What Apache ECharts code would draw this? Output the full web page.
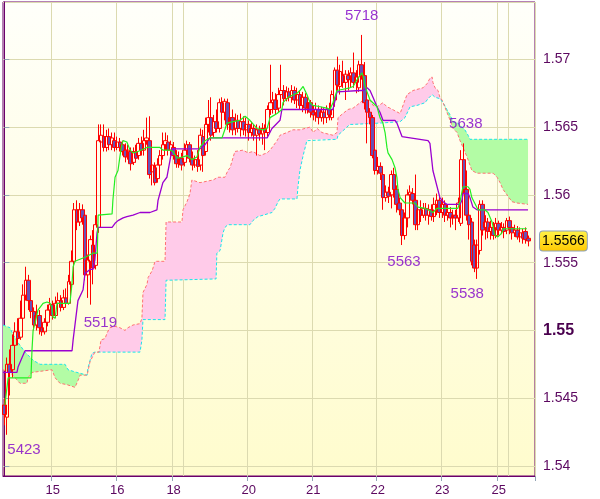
<!DOCTYPE html>
<html><head><meta charset="utf-8">
<script src="https://cdn.jsdelivr.net/npm/echarts@6/dist/echarts.min.js"></script>
<style>html,body{margin:0;padding:0;background:#fff}#c{width:600px;height:499px}</style>
</head><body><div id="c"></div>
<script>
// ---- data ----
const dayNames = ['14','15','16','18','19','20','21','22','23','25','26'];
const dayHours = [18,24,21,4,24,24,24,24,21,4,10];
const labeledDays = ['15','16','18','20','21','22','23','25'];
const gridDays = ['15','16','18','19','20','21','22','23','25','26'];

// [open, close, low, high]
const candles = [
[1.5445,1.5438,1.5430,1.5450],[1.5436,1.5475,1.5423,1.5480],[1.5475,1.5469,1.5452,1.5486],[1.5471,1.5489,1.5465,1.5497],
[1.5489,1.5499,1.5486,1.5506],[1.5499,1.5494,1.5489,1.5509],[1.5495,1.5509,1.5493,1.5522],[1.5509,1.5526,1.5506,1.5534],
[1.5526,1.5537,1.5522,1.5547],[1.5537,1.5522,1.5515,1.5541],[1.5522,1.5514,1.5509,1.5530],[1.5514,1.5504,1.5500,1.5517],
[1.5504,1.5511,1.5500,1.5519],[1.5511,1.5502,1.5497,1.5515],[1.5502,1.5499,1.5496,1.5508],[1.5499,1.5506,1.5497,1.5509],
[1.5506,1.5515,1.5503,1.5519],[1.5515,1.5519,1.5511,1.5524],[1.5519,1.5511,1.5508,1.5522],[1.5511,1.5520,1.5509,1.5525],
[1.5520,1.5522,1.5515,1.5528],[1.5522,1.5517,1.5514,1.5526],[1.5517,1.5524,1.5515,1.5530],[1.5524,1.5520,1.5517,1.5531],
[1.5520,1.5536,1.5519,1.5541],[1.5534,1.5551,1.5530,1.5559],[1.5551,1.5589,1.5548,1.5594],[1.5589,1.5580,1.5574,1.5596],
[1.5580,1.5589,1.5577,1.5594],[1.5589,1.5583,1.5578,1.5593],[1.5585,1.5541,1.5537,1.5589],[1.5541,1.5552,1.5524,1.5556],
[1.5551,1.5567,1.5519,1.5570],[1.5563,1.5546,1.5534,1.5574],[1.5548,1.5578,1.5545,1.5585],[1.5576,1.5640,1.5572,1.5652],
[1.5639,1.5644,1.5633,1.5652],[1.5643,1.5635,1.5632,1.5652],[1.5635,1.5643,1.5632,1.5648],[1.5643,1.5637,1.5633,1.5649],
[1.5637,1.5642,1.5633,1.5646],[1.5640,1.5635,1.5632,1.5646],[1.5635,1.5639,1.5633,1.5643],[1.5639,1.5635,1.5632,1.5642],
[1.5637,1.5632,1.5629,1.5640],[1.5633,1.5628,1.5624,1.5638],[1.5628,1.5633,1.5626,1.5637],[1.5632,1.5623,1.5618,1.5635],
[1.5624,1.5632,1.5622,1.5635],[1.5632,1.5627,1.5624,1.5637],[1.5629,1.5638,1.5626,1.5642],[1.5638,1.5633,1.5629,1.5643],
[1.5633,1.5640,1.5629,1.5648],[1.5640,1.5642,1.5637,1.5657],[1.5640,1.5615,1.5612,1.5658],[1.5617,1.5622,1.5607,1.5626],
[1.5620,1.5609,1.5607,1.5624],[1.5612,1.5622,1.5609,1.5627],[1.5622,1.5629,1.5617,1.5633],[1.5629,1.5637,1.5626,1.5646],
[1.5637,1.5640,1.5633,1.5646],[1.5639,1.5633,1.5629,1.5644],[1.5633,1.5637,1.5629,1.5640],[1.5635,1.5629,1.5626,1.5639],
[1.5629,1.5623,1.5620,1.5633],[1.5623,1.5627,1.5620,1.5632],[1.5627,1.5622,1.5618,1.5631],[1.5624,1.5633,1.5621,1.5638],
[1.5633,1.5637,1.5629,1.5640],[1.5637,1.5627,1.5624,1.5639],[1.5627,1.5622,1.5618,1.5632],[1.5622,1.5626,1.5620,1.5629],
[1.5626,1.5621,1.5617,1.5633],[1.5622,1.5644,1.5618,1.5649],[1.5643,1.5629,1.5617,1.5648],[1.5632,1.5652,1.5629,1.5657],
[1.5652,1.5657,1.5646,1.5670],[1.5657,1.5644,1.5640,1.5672],[1.5646,1.5654,1.5642,1.5659],[1.5654,1.5649,1.5646,1.5663],
[1.5649,1.5668,1.5646,1.5671],[1.5668,1.5661,1.5657,1.5672],[1.5661,1.5669,1.5655,1.5671],[1.5668,1.5652,1.5648,1.5671],
[1.5653,1.5657,1.5646,1.5664],[1.5657,1.5648,1.5644,1.5663],[1.5649,1.5655,1.5644,1.5660],[1.5655,1.5649,1.5646,1.5659],
[1.5649,1.5654,1.5643,1.5660],[1.5654,1.5648,1.5644,1.5658],[1.5648,1.5652,1.5643,1.5657],[1.5652,1.5646,1.5640,1.5655],
[1.5646,1.5649,1.5643,1.5654],[1.5649,1.5644,1.5640,1.5652],[1.5644,1.5648,1.5629,1.5652],[1.5648,1.5645,1.5640,1.5651],
[1.5645,1.5649,1.5637,1.5653],[1.5649,1.5646,1.5633,1.5652],[1.5646,1.5663,1.5643,1.5666],[1.5663,1.5668,1.5659,1.5696],
[1.5668,1.5670,1.5660,1.5676],[1.5670,1.5663,1.5659,1.5675],[1.5664,1.5674,1.5661,1.5679],[1.5674,1.5677,1.5669,1.5696],
[1.5677,1.5671,1.5666,1.5681],[1.5671,1.5676,1.5669,1.5680],[1.5676,1.5672,1.5669,1.5679],[1.5672,1.5677,1.5668,1.5681],
[1.5677,1.5670,1.5667,1.5680],[1.5670,1.5674,1.5664,1.5679],[1.5674,1.5666,1.5663,1.5677],[1.5666,1.5672,1.5661,1.5676],
[1.5672,1.5664,1.5660,1.5675],[1.5664,1.5668,1.5660,1.5671],[1.5668,1.5661,1.5657,1.5670],[1.5661,1.5659,1.5655,1.5666],
[1.5659,1.5663,1.5654,1.5668],[1.5663,1.5657,1.5652,1.5666],[1.5657,1.5661,1.5654,1.5665],[1.5661,1.5657,1.5652,1.5664],
[1.5657,1.5663,1.5653,1.5666],[1.5663,1.5659,1.5655,1.5668],[1.5657,1.5674,1.5655,1.5677],[1.5670,1.5692,1.5665,1.5694],
[1.5692,1.5681,1.5677,1.5702],[1.5680,1.5691,1.5674,1.5696],[1.5688,1.5683,1.5679,1.5699],[1.5683,1.5689,1.5670,1.5692],
[1.5688,1.5685,1.5677,1.5692],[1.5685,1.5690,1.5679,1.5694],[1.5690,1.5683,1.5679,1.5705],[1.5683,1.5687,1.5675,1.5692],
[1.5679,1.5696,1.5676,1.5699],[1.5696,1.5688,1.5685,1.5718],[1.5688,1.5668,1.5663,1.5698],[1.5670,1.5661,1.5638,1.5674],
[1.5661,1.5657,1.5652,1.5664],[1.5657,1.5629,1.5627,1.5659],[1.5633,1.5618,1.5615,1.5637],[1.5618,1.5621,1.5615,1.5628],
[1.5621,1.5616,1.5611,1.5624],[1.5615,1.5598,1.5589,1.5618],[1.5598,1.5602,1.5595,1.5607],[1.5602,1.5599,1.5594,1.5606],
[1.5600,1.5615,1.5590,1.5618],[1.5615,1.5604,1.5598,1.5620],[1.5604,1.5593,1.5587,1.5607],[1.5594,1.5589,1.5585,1.5598],
[1.5589,1.5570,1.5563,1.5593],[1.5570,1.5583,1.5567,1.5587],[1.5583,1.5600,1.5576,1.5604],[1.5600,1.5602,1.5593,1.5607],
[1.5601,1.5596,1.5593,1.5605],[1.5596,1.5578,1.5574,1.5615],[1.5578,1.5589,1.5574,1.5593],[1.5589,1.5585,1.5580,1.5596],
[1.5585,1.5590,1.5583,1.5594],[1.5590,1.5585,1.5581,1.5594],[1.5585,1.5589,1.5578,1.5593],[1.5589,1.5584,1.5581,1.5593],
[1.5584,1.5593,1.5580,1.5598],[1.5593,1.5596,1.5585,1.5601],[1.5596,1.5587,1.5583,1.5600],[1.5587,1.5593,1.5583,1.5598],
[1.5593,1.5585,1.5580,1.5596],[1.5585,1.5587,1.5581,1.5593],[1.5587,1.5583,1.5576,1.5591],[1.5583,1.5585,1.5578,1.5589],
[1.5585,1.5583,1.5574,1.5589],[1.5583,1.5594,1.5580,1.5598],[1.5579,1.5626,1.5577,1.5633],[1.5626,1.5604,1.5601,1.5638],
[1.5604,1.5585,1.5581,1.5618],[1.5585,1.5578,1.5567,1.5593],[1.5580,1.5551,1.5548,1.5583],[1.5563,1.5546,1.5543,1.5567],
[1.5546,1.5563,1.5538,1.5567],[1.5559,1.5593,1.5556,1.5596],[1.5593,1.5574,1.5570,1.5596],[1.5576,1.5580,1.5567,1.5585],
[1.5580,1.5573,1.5568,1.5583],[1.5573,1.5576,1.5567,1.5581],[1.5576,1.5570,1.5567,1.5580],[1.5570,1.5579,1.5568,1.5583],
[1.5579,1.5574,1.5570,1.5581],[1.5574,1.5576,1.5571,1.5580],[1.5576,1.5573,1.5568,1.5579],[1.5574,1.5581,1.5571,1.5583],
[1.5581,1.5576,1.5571,1.5584],[1.5576,1.5572,1.5567,1.5579],[1.5572,1.5574,1.5569,1.5578],[1.5574,1.5569,1.5567,1.5577],
[1.5569,1.5572,1.5565,1.5576],[1.5572,1.5568,1.5564,1.5575],[1.5573,1.5567,1.5564,1.5576],[1.5568,1.5566,1.5562,1.5570]
];

// [bar position, price]
const tenkan = [[0.2,1.5445],[1.4,1.5465],[9.9,1.5465],[10.3,1.5486],[10.7,1.5500],[11.4,1.5505],[12.5,1.5515],[14.4,1.5520],[15.9,1.5521],[17.0,1.5520],[17.7,1.5517],[18.1,1.5510],[18.9,1.5509],[19.6,1.5520],[24.4,1.5520],[25.2,1.5535],[25.6,1.5547],[26.3,1.5551],[30.0,1.5554],[33.0,1.5557],[34.6,1.5557],[34.9,1.5585],[40.1,1.5586],[40.4,1.5596],[41.2,1.5613],[42.3,1.5618],[43.0,1.5628],[43.8,1.5638],[44.2,1.5640],[45.6,1.5639],[46.8,1.5633],[47.9,1.5631],[49.7,1.5632],[53.1,1.5635],[57.9,1.5635],[59.0,1.5633],[61.7,1.5633],[62.8,1.5632],[64.3,1.5627],[66.5,1.5628],[68.0,1.5629],[69.8,1.5626],[71.7,1.5628],[72.8,1.5635],[74.7,1.5640],[76.5,1.5642],[81.0,1.5642],[82.9,1.5653],[85.1,1.5654],[87.7,1.5655],[89.6,1.5658],[91.4,1.5655],[94.0,1.5649],[96.3,1.5648],[97.8,1.5649],[98.9,1.5657],[101.5,1.5660],[103.3,1.5663],[103.7,1.5668],[105.6,1.5672],[108.9,1.5675],[110.0,1.5677],[111.2,1.5680],[112.6,1.5674],[113.8,1.5668],[114.9,1.5666],[117.5,1.5665],[120.1,1.5664],[121.2,1.5663],[122.3,1.5668],[123.8,1.5677],[128.6,1.5679],[129.8,1.5680],[131.6,1.5686],[133.1,1.5690],[133.5,1.5688],[134.2,1.5681],[135.0,1.5676],[136.1,1.5670],[138.7,1.5665],[139.8,1.5657],[140.9,1.5653],[141.7,1.5646],[142.4,1.5635],[142.8,1.5631],[144.3,1.5626],[145.4,1.5620],[146.1,1.5613],[146.5,1.5604],[147.3,1.5598],[149.1,1.5594],[152.8,1.5594],[154.0,1.5591],[156.6,1.5590],[157.7,1.5589],[159.5,1.5587],[161.0,1.5590],[168.8,1.5590],[169.6,1.5595],[170.3,1.5602],[170.7,1.5606],[172.6,1.5606],[173.3,1.5604],[174.0,1.5598],[176.3,1.5589],[178.8,1.5589],[180.0,1.5587],[181.5,1.5580],[182.6,1.5570],[183.7,1.5569],[185.2,1.5572],[185.6,1.5575],[194.5,1.5575]];

const kijun = [[-0.5,1.5469],[4.7,1.5469],[5.1,1.5473],[6.6,1.5480],[7.7,1.5485],[25.2,1.5485],[25.6,1.5493],[27.4,1.5522],[29.3,1.5530],[30.0,1.5542],[31.9,1.5545],[33.0,1.5545],[33.7,1.5552],[34.5,1.5572],[34.9,1.5576],[40.1,1.5576],[41.2,1.5579],[42.3,1.5581],[44.2,1.5583],[45.6,1.5584],[47.9,1.5585],[50.5,1.5587],[54.2,1.5587],[56.8,1.5589],[57.2,1.5596],[57.9,1.5601],[59.0,1.5609],[60.5,1.5613],[61.7,1.5626],[62.4,1.5634],[72.8,1.5634],[74.7,1.5637],[76.5,1.5642],[97.8,1.5642],[99.6,1.5649],[102.6,1.5655],[103.3,1.5663],[122.3,1.5663],[123.8,1.5676],[132.4,1.5677],[133.5,1.5677],[135.0,1.5679],[136.1,1.5677],[137.2,1.5672],[138.7,1.5665],[139.8,1.5661],[140.9,1.5655],[145.4,1.5655],[146.1,1.5653],[148.0,1.5643],[157.7,1.5640],[158.4,1.5638],[159.5,1.5618],[162.1,1.5598],[163.3,1.5595],[164.7,1.5593],[169.6,1.5593],[170.3,1.5596],[170.7,1.5601],[172.6,1.5601],[173.3,1.5598],[174.4,1.5591],[175.9,1.5589],[194.9,1.5589]];

const senkouA = [[-0.5,1.5504],[2.1,1.5502],[3.2,1.5497],[5.1,1.5491],[7.7,1.5484],[10.7,1.5478],[13.3,1.5475],[22.6,1.5475],[23.7,1.5471],[27.0,1.5469],[30.8,1.5467],[31.1,1.5472],[32.6,1.5483],[33.7,1.5484],[50.5,1.5484],[51.2,1.5493],[51.6,1.5508],[59.8,1.5508],[60.2,1.5537],[78.8,1.5538],[79.1,1.5557],[80.3,1.5559],[81.4,1.5572],[82.1,1.5576],[83.2,1.5578],[91.4,1.5578],[92.5,1.5581],[94.4,1.5584],[96.3,1.5585],[99.6,1.5587],[100.7,1.5590],[101.9,1.5595],[102.6,1.5597],[108.9,1.5597],[109.3,1.5606],[110.0,1.5618],[111.2,1.5629],[112.6,1.5640],[113.0,1.5641],[123.8,1.5641],[124.2,1.5644],[128.6,1.5652],[129.8,1.5652],[139.8,1.5653],[147.3,1.5654],[149.1,1.5657],[151.0,1.5665],[153.6,1.5666],[156.6,1.5668],[157.7,1.5671],[159.2,1.5674],[160.3,1.5672],[162.1,1.5671],[163.3,1.5668],[164.7,1.5663],[165.9,1.5659],[167.0,1.5654],[168.8,1.5653],[170.3,1.5650],[171.4,1.5648],[172.6,1.5644],[173.3,1.5641],[194.9,1.5641]];

const senkouB = [[-0.5,1.5471],[2.1,1.5469],[4.0,1.5465],[5.8,1.5461],[8.4,1.5461],[8.8,1.5465],[10.3,1.5469],[17.7,1.5471],[18.9,1.5465],[20.7,1.5461],[23.3,1.5460],[26.3,1.5458],[27.4,1.5463],[28.2,1.5467],[30.8,1.5467],[31.9,1.5477],[33.7,1.5484],[35.2,1.5484],[36.0,1.5493],[37.5,1.5494],[38.2,1.5498],[39.3,1.5502],[41.2,1.5503],[43.0,1.5502],[44.9,1.5500],[46.0,1.5502],[47.9,1.5504],[50.5,1.5505],[51.2,1.5509],[51.6,1.5528],[53.1,1.5534],[53.5,1.5539],[55.0,1.5544],[56.1,1.5551],[59.8,1.5551],[60.2,1.5580],[66.1,1.5580],[66.5,1.5589],[68.0,1.5595],[69.1,1.5601],[69.8,1.5611],[72.8,1.5609],[77.7,1.5611],[79.5,1.5613],[82.1,1.5613],[83.2,1.5618],[84.0,1.5620],[85.8,1.5632],[88.8,1.5633],[90.7,1.5631],[92.5,1.5632],[95.1,1.5629],[97.8,1.5631],[98.9,1.5633],[101.5,1.5640],[102.6,1.5644],[105.2,1.5646],[107.4,1.5648],[110.0,1.5648],[111.9,1.5649],[113.8,1.5650],[114.9,1.5646],[116.4,1.5649],[118.2,1.5646],[122.3,1.5644],[123.8,1.5646],[124.2,1.5657],[126.0,1.5660],[127.9,1.5663],[129.8,1.5664],[132.4,1.5668],[133.5,1.5670],[136.1,1.5670],[137.2,1.5666],[138.7,1.5665],[140.9,1.5668],[142.4,1.5665],[143.5,1.5664],[147.3,1.5660],[149.1,1.5670],[149.9,1.5674],[152.1,1.5677],[155.8,1.5679],[157.3,1.5682],[158.4,1.5686],[159.2,1.5687],[159.5,1.5683],[160.3,1.5679],[161.4,1.5677],[162.1,1.5672],[162.9,1.5670],[165.9,1.5655],[167.0,1.5649],[168.5,1.5646],[169.6,1.5640],[170.7,1.5635],[172.2,1.5628],[174.0,1.5618],[175.9,1.5616],[181.9,1.5616],[183.4,1.5613],[184.5,1.5609],[185.6,1.5604],[187.1,1.5600],[188.9,1.5595],[190.8,1.5594],[194.9,1.5593]];

const cloudBreaks = [-0.5, 31.0, 163.0, 194.9];
const cloudKinds = ['up','down','up'];

const extremeLabels = ['5718','5638','5519','5563','5538','5423'];
const extremeBars   = [133, 171, 32, 148, 176, 1];
const extremePrices = [1.5718, 1.5638, 1.5519, 1.5563, 1.5538, 1.5423];
const extremeSides  = ['top','top','bottom','bottom','bottom','bottom'];

const lastPrice = 1.5566;
const yMin = 1.53926, yMax = 1.57423;

// ---- build ----
const categories = [];
const dayStartIdx = {};
dayNames.forEach((d, k) => {
  dayStartIdx[d] = categories.length;
  for (let h = 0; h < dayHours[k]; h++) categories.push(d + '/' + h);
});
const labelIdx = new Set(labeledDays.map(d => dayStartIdx[d]));
const gridIdx = new Set(gridDays.map(d => dayStartIdx[d]));
const labelText = {};
labeledDays.forEach(d => labelText[dayStartIdx[d]] = d);

function interp(pts, x) {
  if (x <= pts[0][0]) return pts[0][1];
  for (let k = 1; k < pts.length; k++) {
    if (x <= pts[k][0]) {
      const [x0, y0] = pts[k - 1], [x1, y1] = pts[k];
      return x1 === x0 ? y1 : y0 + (y1 - y0) * (x - x0) / (x1 - x0);
    }
  }
  return pts[pts.length - 1][1];
}
function segPoly(a, b) {
  const top = [[a, interp(senkouA, a)]].concat(senkouA.filter(p => p[0] > a && p[0] < b), [[b, interp(senkouA, b)]]);
  const bot = [[a, interp(senkouB, a)]].concat(senkouB.filter(p => p[0] > a && p[0] < b), [[b, interp(senkouB, b)]]).reverse();
  return top.concat(bot);
}
const cloudFill = {up: '#b3fca5', down: '#ffcbe9'};
const labelShiftX = [0, 2, 10, 2, -10, 17];
const labelDist = [11, 11, 10, 8, 6, 7];

const FONT = 'Liberation Sans, Arial, sans-serif';
const chart = echarts.init(document.getElementById('c'), null, {renderer: 'canvas'});
chart.setOption({
  animation: false,
  backgroundColor: '#ffffff',
  grid: {
    left: 3, right: 65, top: 2, bottom: 23, show: true,
    borderColor: '#6b006b', borderWidth: 1,
    backgroundColor: new echarts.graphic.LinearGradient(0, 0, 0, 1, [
      {offset: 0, color: '#fffffa'}, {offset: 1, color: '#fffccd'}])
  },
  xAxis: [{
    type: 'category', data: categories, boundaryGap: true,
    axisLine: {show: true, lineStyle: {color: '#6b006b'}},
    axisTick: {show: true, length: 5, interval: (i) => labelIdx.has(i), lineStyle: {color: '#93a3b5'}},
    axisLabel: {interval: (i) => labelIdx.has(i), formatter: (v, i) => labelText[i] || '',
      color: '#5c0860', fontFamily: FONT, fontSize: 13, margin: 8},
    splitLine: {show: true, interval: (i) => gridIdx.has(i), lineStyle: {color: '#dcdab0'}}
  }, {
    type: 'value', min: -0.5, max: 197.5, show: false
  }],
  yAxis: {
    type: 'value', position: 'right', min: yMin, max: yMax,
    minInterval: 0.005, maxInterval: 0.005, scale: true,
    axisLine: {show: true, lineStyle: {color: '#6b006b'}},
    axisTick: {show: true, length: 5, lineStyle: {color: '#93a3b5'}},
    axisLabel: {
      showMinLabel: false, showMaxLabel: false, margin: 8,
      color: '#5c0860', fontFamily: FONT, fontSize: 14,
      formatter: (v) => Math.abs(v - 1.55) < 1e-7 ? '{b|1.55}' : String(+v.toFixed(3)),
      rich: {b: {fontWeight: 'bold', fontSize: 16, color: '#4a004e', fontFamily: FONT}}
    },
    splitLine: {show: true, lineStyle: {color: '#dcdab0'}},
    axisPointer: {
      show: true, value: lastPrice, status: 'show', triggerTooltip: false,
      type: 'line', lineStyle: {width: 0, opacity: 0},
      label: {
        show: true, formatter: () => lastPrice.toFixed(4), margin: 5,
        color: '#000', fontFamily: FONT, fontSize: 14, padding: [3, 2, 2, 2],
        borderColor: '#8ea1b6', borderWidth: 1,
        backgroundColor: new echarts.graphic.LinearGradient(0, 0, 0, 1, [
          {offset: 0, color: '#fff34a'}, {offset: 1, color: '#ffc800'}])
      }
    }
  },
  axisPointer: {triggerOn: 'none'},
  series: [
    {
      type: 'custom', xAxisIndex: 1, yAxisIndex: 0, silent: true, z: 1,
      data: cloudKinds.map((k, i) => [i, 1.55]),
      renderItem: (params, api) => {
        const i = params.dataIndex;
        const pts = segPoly(cloudBreaks[i], cloudBreaks[i + 1]).map(p => api.coord(p));
        return {type: 'polygon', shape: {points: pts}, style: {fill: cloudFill[cloudKinds[i]], stroke: null}};
      }
    },
    {type: 'line', xAxisIndex: 1, data: senkouA, symbol: 'none', silent: true, z: 2,
      lineStyle: {color: '#19e6ea', width: 1, type: [3, 2]}},
    {type: 'line', xAxisIndex: 1, data: senkouB, symbol: 'none', silent: true, z: 2,
      lineStyle: {color: '#ff7272', width: 1, type: [3, 2]}},
    {
      type: 'candlestick', xAxisIndex: 0, data: candles, barWidth: 4, silent: true, z: 3,
      itemStyle: {color: 'rgba(255,255,255,0)', color0: '#6a52b4', borderColor: '#ff0000', borderColor0: '#ff0000', borderWidth: 1}
    },
    {type: 'line', xAxisIndex: 1, data: kijun, symbol: 'none', silent: true, z: 4,
      lineStyle: {color: '#9b00d0', width: 1.3}},
    {type: 'line', xAxisIndex: 1, data: tenkan, symbol: 'none', silent: true, z: 5,
      lineStyle: {color: '#22ee22', width: 1.2}},
    {
      type: 'scatter', xAxisIndex: 1, symbolSize: 2, silent: true, z: 6,
      itemStyle: {color: 'rgba(0,0,0,0)'},
      data: extremeLabels.map((t, i) => ({
        value: [extremeBars[i], extremePrices[i]],
        label: {show: true, formatter: t, position: extremeSides[i], distance: labelDist[i],
          color: '#8000c8', fontFamily: FONT, fontSize: 15}
      })),
      labelLayout: (params) => ({dx: labelShiftX[params.dataIndex], hideOverlap: false})
    }
  ]
});
</script>
</body></html>
